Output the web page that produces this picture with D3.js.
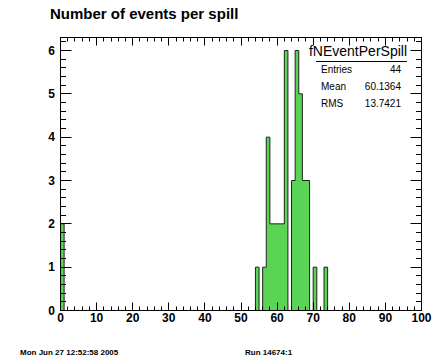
<!DOCTYPE html>
<html>
<head>
<meta charset="utf-8">
<script src="https://cdn.jsdelivr.net/npm/d3@7"></script>
<style>
  html, body { margin: 0; padding: 0; background: #fff; }
  svg { display: block; }
  text { font-family: "Liberation Sans", Arial, Helvetica, sans-serif; }
</style>
</head>
<body>
<svg id="chart" width="433" height="357"></svg>
<script>
// ---- data ----
const title = "Number of events per spill";
const histName = "fNEventPerSpill";
const binValues = [0, 54, 56, 57, 58, 59, 60, 61, 62, 64, 65, 66, 67, 68, 70, 73];
const binCounts = [2, 1, 1, 4, 2, 2, 2, 2, 6, 3, 6, 5, 3, 3, 1, 1];
const nBins = 100, xMin = 0, xMax = 100;
const xTickLabels = [0, 10, 20, 30, 40, 50, 60, 70, 80, 90, 100];
const yTickLabels = [0, 1, 2, 3, 4, 5, 6];
const statsLabels = ["Entries", "Mean", "RMS"];
const statsValues = ["44", "60.1364", "13.7421"];
const dateText = "Mon Jun 27 12:52:58 2005";
const runText = "Run 14674:1";

// ---- build full histogram ----
const counts = new Array(nBins).fill(0);
binValues.forEach((v, i) => { counts[v] = binCounts[i]; });
const yMax = d3.max(counts) * 1.05;

const svg = d3.select("#chart");
const L = 60.5, R = 421.5, T = 37.5, B = 310.5;
const x = d3.scaleLinear().domain([xMin, xMax]).range([L, R]);
const y = d3.scaleLinear().domain([0, yMax]).range([B, T]);

// title
svg.append("text").attr("x", 50).attr("y", 19)
  .attr("font-size", 15).attr("font-weight", "bold").attr("fill", "#000")
  .text(title);

// histogram
const pts = counts.map((c, i) => [i, c]);
pts.push([nBins, counts[nBins - 1]]);
const area = d3.area().x(d => x(d[0])).y0(y(0)).y1(d => y(d[1])).curve(d3.curveStepAfter);
svg.append("path").attr("d", area(pts)).attr("fill", "#59d454").attr("stroke", "none");
const outlinePts = [[0, 0]].concat(pts).concat([[nBins, 0]]);
const line = d3.line().x(d => x(d[0])).y(d => y(d[1])).curve(d3.curveStepAfter);
svg.append("path").attr("d", line(outlinePts)).attr("fill", "none")
  .attr("stroke", "#222").attr("stroke-width", 1);

// axes (ROOT style: ticks inside, on all four sides)
const g = svg.append("g");
const xMinor = d3.range(0, 101, 2);
const yMinor = d3.range(0, Math.floor(yMax * 5) + 1).map(k => k / 5);
xMinor.forEach(v => {
  const major = v % 10 === 0;
  const len = major ? 8 : 4;
  const px = Math.round(x(v) - 0.5) + 0.5;
  g.append("line").attr("x1", px).attr("x2", px).attr("y1", B).attr("y2", B - len).attr("stroke", "#000");
  g.append("line").attr("x1", px).attr("x2", px).attr("y1", T).attr("y2", T + len).attr("stroke", "#000");
});
yMinor.forEach(v => {
  const major = Math.abs(v - Math.round(v)) < 1e-9;
  const len = major ? 11 : 5.5;
  const py = Math.round(y(v) - 0.5) + 0.5;
  g.append("line").attr("x1", L).attr("x2", L + len).attr("y1", py).attr("y2", py).attr("stroke", "#000");
  g.append("line").attr("x1", R).attr("x2", R - len).attr("y1", py).attr("y2", py).attr("stroke", "#000");
});
// frame
svg.append("rect").attr("x", L).attr("y", T).attr("width", R - L).attr("height", B - T)
  .attr("fill", "none").attr("stroke", "#000").attr("stroke-width", 1);

// tick labels
xTickLabels.forEach(v => {
  svg.append("text").attr("x", x(v)).attr("y", 322).attr("text-anchor", "middle")
    .attr("font-size", 12).attr("font-weight", "bold").text(v);
});
yTickLabels.forEach(v => {
  svg.append("text").attr("x", 55).attr("y", y(v) + 4).attr("text-anchor", "end")
    .attr("font-size", 12).attr("font-weight", "bold").text(v);
});

// stats box
svg.append("text").attr("x", 407).attr("y", 56).attr("text-anchor", "end")
  .attr("font-size", 14).text(histName);
svg.append("line").attr("x1", 316).attr("x2", 407).attr("y1", 61.5).attr("y2", 61.5)
  .attr("stroke", "#000").attr("stroke-width", 1);
const rowY = [72.5, 90, 107];
statsLabels.forEach((s, i) => {
  svg.append("text").attr("x", 321).attr("y", rowY[i]).attr("font-size", 10).text(s);
  svg.append("text").attr("x", 401).attr("y", rowY[i]).attr("text-anchor", "end")
    .attr("font-size", 10).text(statsValues[i]);
});

// footer
svg.append("text").attr("x", 20).attr("y", 355).attr("font-size", 8).attr("font-weight", "bold").text(dateText);
svg.append("text").attr("x", 245).attr("y", 355).attr("font-size", 8).attr("font-weight", "bold").text(runText);
</script>
</body>
</html>
